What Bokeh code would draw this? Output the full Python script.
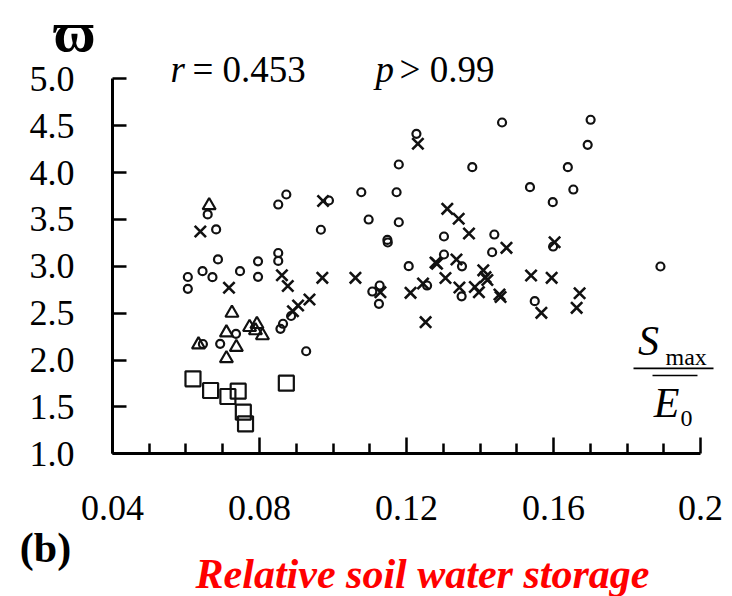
from bokeh.plotting import figure
from bokeh.models import (Range1d, LinearAxis, FixedTicker, CustomJSTickFormatter,
                          Label, Grid)
from bokeh.embed import file_html
from bokeh.resources import INLINE

# ---- data ----
circle_x = [0.0659, 0.0682, 0.0687, 0.0605, 0.0605, 0.0645, 0.0672, 0.0747, 0.0796, 0.0796,
            0.0851, 0.0873, 0.0989, 0.0967, 0.0851, 0.0851, 0.0886, 0.0864, 0.0857, 0.0736,
            0.0646, 0.0693, 0.0927, 0.1227, 0.1179, 0.1379, 0.1077, 0.1173, 0.1097, 0.1179,
            0.1148, 0.1149, 0.1302, 0.1439, 0.1433, 0.1302, 0.1351, 0.1206, 0.1350, 0.1127,
            0.1107, 0.1125, 0.1256, 0.1460, 0.1701, 0.1693, 0.1639, 0.1536, 0.1654, 0.1598,
            0.1599, 0.1891, 0.1549]
circle_y = [3.553, 3.393, 3.073, 2.886, 2.760, 2.948, 2.884, 2.948, 3.053, 2.888,
            3.659, 3.766, 3.702, 3.390, 3.142, 3.057, 2.470, 2.387, 2.333, 2.280,
            2.171, 2.173, 2.094, 4.413, 4.086, 4.057, 3.790, 3.790, 3.499, 3.470,
            3.281, 3.254, 3.318, 3.339, 3.150, 3.126, 3.000, 3.001, 2.680, 2.795,
            2.731, 2.600, 2.795, 4.534, 4.563, 4.296, 4.057, 3.844, 3.819, 3.684,
            3.211, 2.998, 2.628]

cross_x = [0.0639, 0.0717, 0.0861, 0.0877, 0.0971, 0.0936, 0.0905, 0.0891, 0.0973, 0.1231,
           0.1311, 0.1342, 0.1370, 0.1472, 0.1279, 0.1283, 0.1336, 0.1409, 0.1415, 0.1420,
           0.1306, 0.1344, 0.1386, 0.1397, 0.1453, 0.1456, 0.1061, 0.1129, 0.1211, 0.1245,
           0.1252, 0.1539, 0.1595, 0.1567, 0.1671, 0.1663, 0.1603]
cross_y = [3.371, 2.771, 2.905, 2.790, 2.877, 2.646, 2.582, 2.521, 3.697, 4.307,
           3.613, 3.507, 3.350, 3.197, 3.041, 3.027, 3.073, 2.957, 2.884, 2.854,
           2.875, 2.774, 2.779, 2.724, 2.699, 2.673, 2.877, 2.724, 2.717, 2.817,
           2.404, 2.902, 2.877, 2.504, 2.713, 2.557, 3.257]

tri_x = [0.0663, 0.0725, 0.0710, 0.0773, 0.0793, 0.0789, 0.0808, 0.0634, 0.0737, 0.0710]
tri_y = [3.649, 2.502, 2.292, 2.350, 2.382, 2.315, 2.262, 2.164, 2.137, 2.017]

sq_x = [0.0619, 0.0667, 0.0714, 0.0742, 0.0756, 0.0762, 0.0873]
sq_y = [1.800, 1.675, 1.611, 1.668, 1.444, 1.320, 1.753]

x_ticks = [0.04, 0.08, 0.12, 0.16, 0.2]
x_tick_labels = ["0.04", "0.08", "0.12", "0.16", "0.2"]
x_minor_ticks = [0.05, 0.06, 0.07, 0.09, 0.10, 0.11, 0.13, 0.14, 0.15, 0.17, 0.18, 0.19]
y_ticks = [1.0, 1.5, 2.0, 2.5, 3.0, 3.5, 4.0, 4.5, 5.0]
y_tick_labels = ["1.0", "1.5", "2.0", "2.5", "3.0", "3.5", "4.0", "4.5", "5.0"]

FONT = "Liberation Serif"

# The frame covers the whole canvas; axes sit at fixed data locations so
# that the texts around the plot are not clipped.
p = figure(width=732, height=596, x_range=Range1d(0.009524, 0.208707),
           y_range=Range1d(-0.5221, 5.8352), title=None,
           output_backend="svg", toolbar_location=None,
           x_axis_location=None, y_axis_location=None,
           min_border_left=0, min_border_right=0, min_border_top=0, min_border_bottom=0)
p.center = [r for r in p.center if not isinstance(r, Grid)]
p.outline_line_color = None
p.background_fill_color = "white"
p.border_fill_color = "white"

fmt_code = """
const i = tvals.findIndex(t => Math.abs(t - tick) < 1e-9);
return i >= 0 ? tlabels[i] : '';
"""
xaxis = LinearAxis(ticker=FixedTicker(ticks=x_ticks, minor_ticks=x_minor_ticks),
                   formatter=CustomJSTickFormatter(args=dict(tvals=x_ticks, tlabels=x_tick_labels), code=fmt_code),
                   bounds=(0.04, 0.2), fixed_location=1.0)
yaxis = LinearAxis(ticker=FixedTicker(ticks=y_ticks, minor_ticks=[]),
                   formatter=CustomJSTickFormatter(args=dict(tvals=y_ticks, tlabels=y_tick_labels), code=fmt_code),
                   bounds=(1.0, 5.0), fixed_location=0.04)
for ax in (xaxis, yaxis):
    ax.axis_line_width = 3
    ax.axis_line_color = "black"
    ax.major_tick_line_width = 2.5
    ax.minor_tick_line_width = 2.5
    ax.major_tick_line_color = "black"
    ax.major_tick_out = 0
    ax.minor_tick_out = 0
    ax.major_label_text_font = FONT
    ax.major_label_text_font_size = "36px"
    ax.major_label_text_color = "black"
xaxis.major_tick_in = 16
xaxis.minor_tick_in = 10
xaxis.minor_tick_line_color = "black"
xaxis.major_label_standoff = 42
yaxis.major_tick_in = 14
yaxis.minor_tick_line_color = None
yaxis.major_label_standoff = 38
p.add_layout(xaxis, "below")
p.add_layout(yaxis, "left")

col = "#111111"
p.scatter(circle_x, circle_y, marker="circle", size=8, fill_color=None, line_color=col, line_width=2.2)
p.scatter(cross_x, cross_y, marker="x", size=16, line_color=col, line_width=2.6)
p.scatter(tri_x, tri_y, marker="triangle", size=13, fill_color=None, line_color=col, line_width=2.2)
p.scatter(sq_x, sq_y, marker="square", size=15, fill_color=None, line_color=col, line_width=2.2)

# fraction S_max / E_0
p.segment(x0=[0.18177, 0.18694], y0=[1.911, 1.836], x1=[0.20354, 0.19918], y1=[1.911, 1.836],
          line_color="black", line_width=1.6)

def lab(x, y, text, size, style="normal", align="left", baseline="middle", color="black"):
    p.add_layout(Label(x=x, y=y, text=text, text_font=FONT, text_font_size=size,
                       text_font_style=style, text_align=align, text_baseline=baseline,
                       text_color=color))

lab(0.18585, 2.2085, "S", "42px", "italic", "center")
lab(0.19048, 2.028, "max", "24px", "normal", "left")
lab(0.19075, 1.547, "E", "42px", "italic", "center")
lab(0.19619, 1.376, "0", "24px", "normal", "center")

lab(0.02966, 5.50, "\u03d6", "58px", "bold", "center")
lab(0.05578, 5.10, "r", "37px", "italic", "left")
lab(0.06177, 5.10, "= 0.453", "37px", "normal", "left")
lab(0.11156, 5.10, "p", "37px", "italic", "left")
lab(0.11810, 5.10, "> 0.99", "37px", "normal", "left")
lab(0.02177, -0.005, "(b)", "42px", "bold", "center")
lab(0.12435, -0.285, "Relative soil water storage", "42px", "bold italic", "center", color="#ff0000")

open("out.html", "w").write(file_html(p, INLINE))
